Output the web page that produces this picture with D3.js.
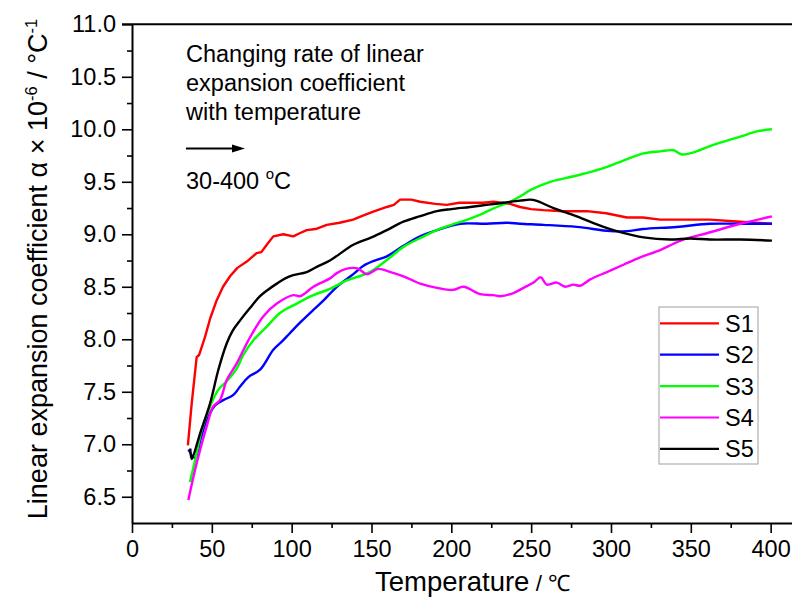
<!DOCTYPE html>
<html>
<head>
<meta charset="utf-8">
<script src="https://cdn.jsdelivr.net/npm/d3@7"></script>
<style>
  body { margin: 0; background: #fff; }
  text { font-family: "Liberation Sans", Arial, sans-serif; fill: #000; }
</style>
</head>
<body>
<div id="chart"></div>
<script>
// ||================================||
// || DATA                           ||
// ||================================||

var seriesNames = ["S1", "S2", "S3", "S4", "S5"];
var seriesColors = ["#ff0000", "#0000ff", "#00ff00", "#ff00ff", "#000000"];

var s1Temp = [35, 37.4, 40.5, 42, 45.7, 49, 53, 57, 61.4, 66, 71.9, 78, 81, 84.4, 88.5, 94.8, 101, 105, 109.4, 115, 122, 130, 138.5, 145, 152, 159.6, 164, 167.9, 175, 180.5, 190, 197, 205, 211.8, 220, 226.4, 236.8, 243, 250, 257.7, 270, 284.9, 297, 310, 320, 330.8, 345, 362, 381, 400.8];
var s1Alpha = [6.99, 7.39, 7.83, 7.85, 8.02, 8.2, 8.37, 8.5, 8.60, 8.68, 8.74, 8.82, 8.83, 8.90, 8.98, 9.00, 8.98, 9.01, 9.04, 9.05, 9.09, 9.11, 9.14, 9.18, 9.22, 9.26, 9.28, 9.33, 9.33, 9.31, 9.29, 9.28, 9.30, 9.30, 9.30, 9.31, 9.29, 9.26, 9.24, 9.23, 9.22, 9.22, 9.2, 9.16, 9.16, 9.14, 9.14, 9.14, 9.12, 9.10];

var s2Temp = [35.3, 39.5, 43, 46.8, 52, 57.2, 63.5, 67.7, 72.9, 80.2, 88.5, 94, 99, 106, 113.6, 120, 128.3, 138.6, 145, 152, 159.6, 170, 180.5, 191, 205.5, 222, 234.8, 243, 257.7, 278.6, 299.5, 310, 320, 341, 362, 380, 400.8];
var s2Alpha = [6.95, 6.87, 7.05, 7.23, 7.37, 7.42, 7.47, 7.55, 7.64, 7.71, 7.90, 7.98, 8.06, 8.17, 8.28, 8.37, 8.50, 8.62, 8.70, 8.75, 8.79, 8.89, 8.98, 9.04, 9.10, 9.10, 9.11, 9.10, 9.09, 9.07, 9.03, 9.03, 9.05, 9.07, 9.10, 9.10, 9.10];

var s3Temp = [36.3, 40, 43.7, 48.9, 54.1, 59.3, 65.6, 69.7, 76, 84.4, 92.7, 103.2, 113.6, 124, 134.5, 149, 160, 170, 180, 191, 200, 211.8, 220, 228.5, 236.8, 243, 249.4, 261.9, 278.6, 293.2, 305.8, 320.4, 330.8, 339.2, 344.4, 351.7, 362, 381, 391.4, 400.8];
var s3Alpha = [6.64, 6.88, 7.14, 7.36, 7.52, 7.60, 7.72, 7.85, 7.99, 8.12, 8.25, 8.34, 8.42, 8.48, 8.56, 8.64, 8.76, 8.88, 8.96, 9.04, 9.09, 9.15, 9.20, 9.26, 9.31, 9.36, 9.42, 9.50, 9.56, 9.62, 9.69, 9.77, 9.79, 9.80, 9.76, 9.78, 9.84, 9.93, 9.98, 10.00];

var s4Temp = [35.3, 40.5, 46.8, 50.9, 55.1, 59.3, 65.6, 72.9, 82.3, 90.7, 101, 105.3, 113.6, 124, 128.3, 134, 138.6, 142, 147, 154.3, 162, 170, 180.5, 191, 201, 207.6, 218, 226.4, 230.6, 238.9, 245.2, 251.5, 256, 259.8, 266.1, 271.3, 276.5, 280.7, 287, 297.4, 307.8, 318.3, 330.8, 339.2, 347.5, 360, 381, 400.8];
var s4Alpha = [6.47, 6.82, 7.17, 7.36, 7.42, 7.61, 7.77, 7.99, 8.22, 8.34, 8.42, 8.41, 8.50, 8.58, 8.63, 8.67, 8.68, 8.67, 8.62, 8.67, 8.64, 8.60, 8.53, 8.49, 8.47, 8.50, 8.43, 8.42, 8.41, 8.44, 8.49, 8.54, 8.59, 8.52, 8.54, 8.50, 8.52, 8.51, 8.57, 8.64, 8.71, 8.78, 8.85, 8.91, 8.96, 9.01, 9.10, 9.17];

var s5Temp = [36.5, 37.4, 42.6, 48.9, 54.1, 59.3, 63, 67.7, 74, 80.2, 85, 90.7, 96, 101, 109.4, 115.7, 124, 138.6, 150, 159.6, 170, 180, 191, 200, 211.8, 222, 232.6, 243, 249.4, 253, 264, 278.6, 295.3, 305.8, 320.4, 337, 349.6, 362, 381, 400.8];
var s5Alpha = [6.96, 6.86, 7.10, 7.39, 7.71, 7.96, 8.08, 8.18, 8.30, 8.41, 8.47, 8.53, 8.58, 8.61, 8.64, 8.69, 8.75, 8.90, 8.97, 9.04, 9.12, 9.17, 9.22, 9.24, 9.26, 9.28, 9.30, 9.32, 9.33, 9.32, 9.25, 9.17, 9.07, 9.02, 8.97, 8.95, 8.96, 8.95, 8.95, 8.94];

var xTicks = [0, 50, 100, 150, 200, 250, 300, 350, 400];
var yTicks = [6.5, 7.0, 7.5, 8.0, 8.5, 9.0, 9.5, 10.0, 10.5, 11.0];

var temps = [s1Temp, s2Temp, s3Temp, s4Temp, s5Temp];
var alphas = [s1Alpha, s2Alpha, s3Alpha, s4Alpha, s5Alpha];

// ||================================||
// || D3 GRAPH                       ||
// ||================================||

var width = 792,
    height = 604;

var svg = d3.select("#chart")
  .append("svg")
    .attr("width", width)
    .attr("height", height);

var x = d3.scaleLinear().domain([0, 414]).range([132, 793]);
var y = d3.scaleLinear().domain([6.25, 11.0]).range([523, 24.3]);

// curves (S1 is noisy in the original, keep it straight-segmented)
seriesNames.forEach(function(name, i) {
  var pts = temps[i].map(function(t, j) { return [t, alphas[i][j]]; });
  var line = d3.line()
      .x(function(d) { return x(d[0]); })
      .y(function(d) { return y(d[1]); })
      .curve(i == 0 ? d3.curveLinear : d3.curveCatmullRom.alpha(0.5));
  svg.append("path")
      .datum(pts)
      .attr("fill", "none")
      .attr("stroke", seriesColors[i])
      .attr("stroke-width", 2.4)
      .attr("stroke-linejoin", "round")
      .attr("d", line);
});

// axes
var xAxis = svg.append("g")
    .attr("transform", "translate(0," + y(6.25) + ")")
    .call(d3.axisBottom(x).tickValues(xTicks).tickSize(10).tickSizeOuter(0).tickPadding(6)
      .tickFormat(d3.format("d")));

svg.append("g")
    .attr("transform", "translate(0," + y(6.25) + ")")
    .call(d3.axisBottom(x).tickValues(d3.range(25, 414, 50)).tickSize(5).tickSizeOuter(0)
      .tickFormat(""))
    .select(".domain").remove();

var yAxis = svg.append("g")
    .attr("transform", "translate(" + x(0) + ",0)")
    .call(d3.axisLeft(y).tickValues(yTicks).tickSize(10).tickSizeOuter(0).tickPadding(6)
      .tickFormat(d3.format(".1f")));

svg.append("g")
    .attr("transform", "translate(" + x(0) + ",0)")
    .call(d3.axisLeft(y).tickValues(d3.range(6.75, 11, 0.5)).tickSize(5).tickSizeOuter(0)
      .tickFormat(""))
    .select(".domain").remove();

svg.selectAll(".tick line").attr("stroke-width", 1.6);
svg.selectAll(".domain").attr("stroke-width", 2);
svg.selectAll(".tick text")
    .style("font-family", "'Liberation Sans', Arial, sans-serif")
    .style("font-size", "23.5px")
    .attr("fill", "#000");
xAxis.selectAll(".tick text").attr("dy", "0.78em");

// top frame line
svg.append("line")
    .attr("x1", x(0) - 10).attr("x2", width)
    .attr("y1", y(11)).attr("y2", y(11))
    .attr("stroke", "#000")
    .attr("stroke-width", 2);

// axis titles
var xt = svg.append("text")
    .attr("x", 375)
    .attr("y", 591);
xt.append("tspan").style("font-size", "27.5px").text("Temperature");
xt.append("tspan").style("font-size", "22.5px").text(" / \u2103");

var yt = svg.append("text")
    .attr("transform", "translate(47,269) rotate(-90)")
    .attr("text-anchor", "middle")
    .style("font-size", "27px");
yt.append("tspan").text("Linear expansion coefficient \u03b1 \u00d7 10");
yt.append("tspan").attr("dy", -10).style("font-size", "16.5px").text("-6");
yt.append("tspan").attr("dy", 10).text(" / \u00b0C");
yt.append("tspan").attr("dy", -10).style("font-size", "16.5px").text("-1");

// annotation
var noteLines = ["Changing rate of linear", "expansion coefficient", "with temperature"];
svg.selectAll(".note")
  .data(noteLines)
  .enter().append("text")
    .attr("class", "note")
    .attr("x", 186)
    .attr("y", function(d, i) { return 62 + i * 29; })
    .style("font-size", "23.5px")
    .text(function(d) { return d; });

svg.append("line")
    .attr("x1", 186).attr("x2", 234)
    .attr("y1", 148.5).attr("y2", 148.5)
    .attr("stroke", "#000")
    .attr("stroke-width", 1.8);
svg.append("path")
    .attr("d", "M232,144.5 L245,148.5 L232,152.5 Z")
    .attr("fill", "#000");

var rng = svg.append("text")
    .attr("x", 186)
    .attr("y", 189)
    .style("font-size", "23.5px");
rng.append("tspan").text("30-400 ");
rng.append("tspan").attr("dy", -10).style("font-size", "15px").text("o");
rng.append("tspan").attr("dy", 10).text("C");

// legend
var legend = svg.append("g");
legend.append("rect")
    .attr("x", 659).attr("y", 307)
    .attr("width", 99).attr("height", 157)
    .attr("fill", "#fff")
    .attr("stroke", "#a0a0a0")
    .attr("stroke-width", 1);

var item = legend.selectAll(".item")
  .data(seriesNames)
  .enter().append("g")
    .attr("class", "item")
    .attr("transform", function(d, i) { return "translate(0," + (323.3 + i * 31.4) + ")"; });

item.append("line")
    .attr("x1", 660).attr("x2", 719)
    .attr("stroke", function(d, i) { return seriesColors[i]; })
    .attr("stroke-width", 2.2);

item.append("text")
    .attr("x", 725)
    .attr("dy", "0.36em")
    .style("font-size", "23.5px")
    .text(function(d) { return d; });
</script>
</body>
</html>
